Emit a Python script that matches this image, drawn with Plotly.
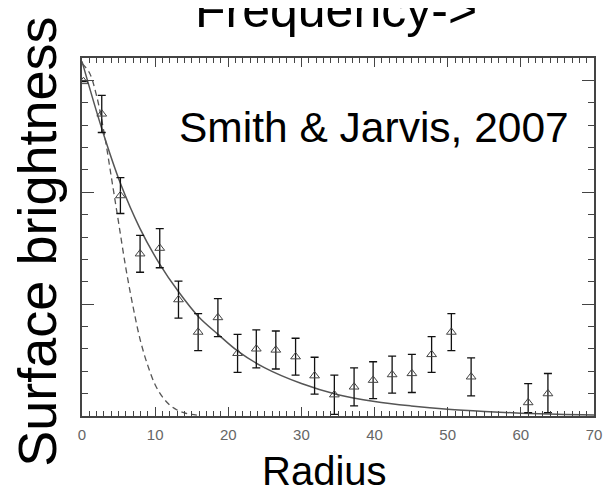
import plotly.graph_objects as go

# ---- data ----
radius = [0.2, 2.7, 5.25, 7.94, 10.63, 13.19, 15.88, 18.58, 21.27, 23.83, 26.5,
          29.2, 31.8, 34.5, 37.2, 39.8, 42.4, 45.1, 47.8, 50.5, 53.2, 61.0, 63.7]
brightness = [2.99, 2.70, 1.97, 1.45, 1.50, 1.04, 0.75, 0.88, 0.56, 0.60, 0.59,
              0.53, 0.36, 0.19, 0.26, 0.32, 0.37, 0.38, 0.55, 0.75, 0.35, 0.12, 0.20]
err_plus = [0.0, 0.166, 0.16, 0.165, 0.175, 0.165, 0.165, 0.17, 0.17, 0.17, 0.17,
            0.165, 0.165, 0.175, 0.17, 0.165, 0.165, 0.17, 0.16, 0.165, 0.17, 0.17, 0.18]
err_minus = [0.0, 0.166, 0.16, 0.165, 0.175, 0.165, 0.165, 0.17, 0.17, 0.17, 0.17,
             0.165, 0.165, 0.175, 0.17, 0.165, 0.165, 0.17, 0.16, 0.165, 0.17, 0.09, 0.17]

# solid model curve
model_x = [0, 2.7, 5.25, 7.9, 10.6, 13.2, 15.9, 18.6, 21.3, 25, 30, 35, 40, 45, 50, 55, 60, 65, 70]
model_y = [3.17, 2.57, 2.08, 1.68, 1.36, 1.11, 0.89, 0.73, 0.58, 0.43, 0.29, 0.19,
           0.13, 0.09, 0.06, 0.04, 0.025, 0.015, 0.01]

# dashed PSF curve
psf_x = [0, 1, 2, 3, 4, 5, 6, 7, 8, 9, 10, 11, 12, 13, 14, 15, 16]
psf_y = [3.15, 3.07, 2.86, 2.54, 2.14, 1.73, 1.32, 0.97, 0.67, 0.45, 0.28, 0.17,
         0.098, 0.054, 0.028, 0.014, 0.006]

x_ticks = [0, 10, 20, 30, 40, 50, 60, 70]

title_text = "Frequency->"
x_title = "Radius"
y_title = "Surface brightness"
note_text = "Smith &amp; Jarvis, 2007"

FONT = "Liberation Sans, Arial, Helvetica, sans-serif"
AXIS_COL = "#444444"

fig = go.Figure()

fig.add_trace(go.Scatter(
    x=psf_x, y=psf_y, mode="lines", line_shape="spline",
    line=dict(color="#555555", width=1.3, dash="6px,4px"),
    hoverinfo="skip", showlegend=False))

fig.add_trace(go.Scatter(
    x=model_x, y=model_y, mode="lines", line_shape="spline",
    line=dict(color="#555555", width=1.5),
    hoverinfo="skip", showlegend=False))

fig.add_trace(go.Scatter(
    x=radius, y=brightness, mode="markers",
    marker=dict(symbol="triangle-up-open", size=8.5, color="#444444",
                line=dict(width=1, color="#444444")),
    error_y=dict(type="data", symmetric=False, array=err_plus, arrayminus=err_minus,
                 color="#111111", thickness=1.3, width=4),
    showlegend=False))

# page body has an 8px margin, so the figure is offset by (8, 8) on screen
fig.update_layout(
    width=605, height=487,
    margin=dict(l=74, r=11, t=50, b=79),
    paper_bgcolor="white", plot_bgcolor="white",
    font=dict(family=FONT),
    showlegend=False,
)

fig.update_xaxes(
    range=[0, 70], tickmode="array", tickvals=x_ticks,
    ticktext=[str(v) for v in x_ticks],
    ticks="inside", ticklen=9, tickwidth=1.2, tickcolor=AXIS_COL,
    minor=dict(ticks="inside", dtick=1, ticklen=5, tickwidth=1, tickcolor=AXIS_COL),
    showline=True, linecolor=AXIS_COL, linewidth=1.6, mirror="ticks",
    showgrid=False, zeroline=False,
    tickfont=dict(size=15, color="#666666", family=FONT),
    ticklabelstandoff=4,
)
fig.update_yaxes(
    range=[0, 3.2], tickmode="linear", tick0=0, dtick=1,
    ticks="inside", ticklen=12, tickwidth=1.2, tickcolor=AXIS_COL,
    minor=dict(ticks="inside", dtick=0.2, ticklen=6, tickwidth=1, tickcolor=AXIS_COL),
    showline=True, linecolor=AXIS_COL, linewidth=1.6, mirror="ticks",
    showgrid=False, zeroline=False, showticklabels=False,
)

# positions expressed in screen pixels relative to the plot frame (82..602, 58..416)
def px_x(p):
    return (p - 82) / 520.0

def px_y(p):
    return (416 - p) / 358.0

fig.add_annotation(text=title_text, xref="paper", yref="paper",
                   x=px_x(340), y=px_y(10), xanchor="center", yanchor="middle",
                   showarrow=False, font=dict(size=50, color="black", family=FONT))
fig.add_annotation(text=x_title, xref="paper", yref="paper",
                   x=px_x(328), y=px_y(471), xanchor="center", yanchor="middle",
                   showarrow=False, font=dict(size=40, color="black", family=FONT))
fig.add_annotation(text=y_title, xref="paper", yref="paper", textangle=-90,
                   x=px_x(36), y=px_y(242), xanchor="center", yanchor="middle",
                   showarrow=False, font=dict(size=54, color="black", family=FONT))
fig.add_annotation(text=note_text, xref="paper", yref="paper",
                   x=px_x(178), y=px_y(127), xanchor="left", yanchor="middle",
                   showarrow=False, font=dict(size=42.5, color="black", family=FONT))

fig.write_html("out.html")
